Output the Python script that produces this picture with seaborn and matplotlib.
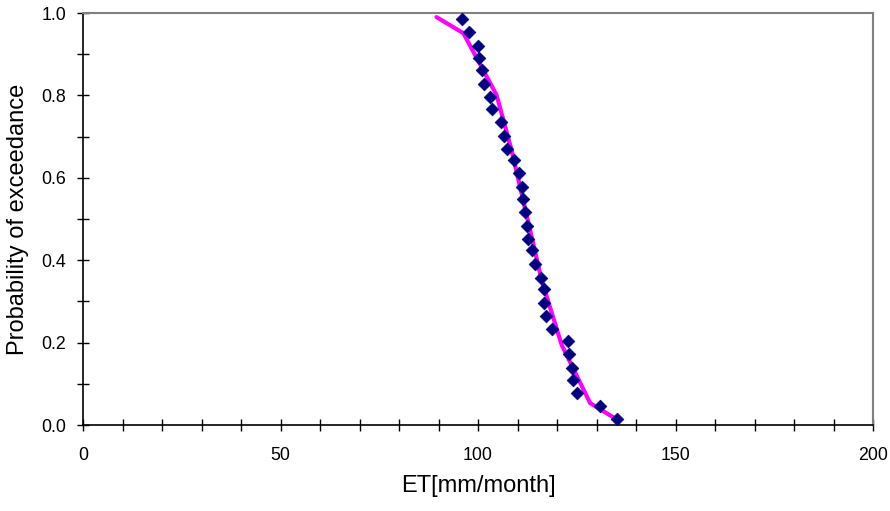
import matplotlib
matplotlib.use("Agg")
import matplotlib.pyplot as plt
import seaborn as sns
import pandas as pd
from matplotlib.ticker import MultipleLocator

# Observed ET values and their plotting-position probabilities
et_obs = [95.9, 97.7, 100.1, 100.3, 101.1, 101.6, 103.0, 103.6, 105.9, 106.6,
          107.4, 109.2, 110.5, 111.1, 111.5, 111.8, 112.3, 112.7, 113.7, 114.5,
          115.9, 116.7, 116.8, 117.1, 118.7, 122.8, 123.1, 123.8, 124.1, 125.1,
          131.0, 135.2]
p_obs = [0.985, 0.955, 0.921, 0.890, 0.861, 0.828, 0.796, 0.768, 0.735, 0.702,
         0.670, 0.642, 0.611, 0.577, 0.548, 0.516, 0.484, 0.452, 0.424, 0.390,
         0.358, 0.329, 0.297, 0.265, 0.232, 0.205, 0.172, 0.139, 0.110, 0.078,
         0.046, 0.014]

# Fitted distribution curve
et_fit = [89.5, 96.3, 104.7, 108.5, 112.3, 116.1, 121.2, 128.4, 134.7]
p_fit = [0.990, 0.951, 0.801, 0.667, 0.510, 0.352, 0.194, 0.053, 0.016]

x_ticks = [0, 50, 100, 150, 200]
y_ticks = [0.0, 0.2, 0.4, 0.6, 0.8, 1.0]
x_label = "ET[mm/month]"
y_label = "Probability of exceedance"

sns.set_theme(style="white")
plt.rcParams['font.family'] = ['Liberation Sans', 'DejaVu Sans']

df_obs = pd.DataFrame({"ET": et_obs, "P": p_obs})
df_fit = pd.DataFrame({"ET": et_fit, "P": p_fit})

fig = plt.figure(figsize=(8.9, 5.11), dpi=100)
ax = fig.add_axes([83/890, 1 - 425/511, (873 - 83)/890, (425 - 13)/511])

sns.lineplot(data=df_fit, x="ET", y="P", ax=ax, color="#FF00FF", linewidth=3,
             sort=False, estimator=None, zorder=2)
sns.scatterplot(data=df_obs, x="ET", y="P", ax=ax, marker="D", s=42,
                color="#000080", edgecolor="#000080", linewidth=0.5, zorder=3)

ax.set_xlim(0, 200)
ax.set_ylim(0, 1.0)
ax.set_xticks(x_ticks)
ax.set_yticks(y_ticks)
ax.set_xticklabels([str(t) for t in x_ticks])
ax.set_yticklabels([f"{t:.1f}" for t in y_ticks])
ax.xaxis.set_minor_locator(MultipleLocator(10))
ax.yaxis.set_minor_locator(MultipleLocator(0.1))

ax.tick_params(axis="both", which="both", direction="inout", length=8, width=1,
               color="black", labelsize=12.8, labelcolor="black")
ax.tick_params(axis="x", which="both", pad=12)
ax.tick_params(axis="y", which="both", pad=8)
ax.tick_params(bottom=True, left=True, which="both")

for side in ["left", "bottom"]:
    ax.spines[side].set_color("black")
    ax.spines[side].set_linewidth(1.2)
for side in ["top", "right"]:
    ax.spines[side].set_visible(True)
    ax.spines[side].set_color("#808080")
    ax.spines[side].set_linewidth(1.5)

ax.set_xlabel(x_label, fontsize=17, labelpad=8, color="black")
ax.set_ylabel(y_label, fontsize=17, labelpad=9, color="black")
ax.grid(False)

fig.savefig("out.png", dpi=100)
